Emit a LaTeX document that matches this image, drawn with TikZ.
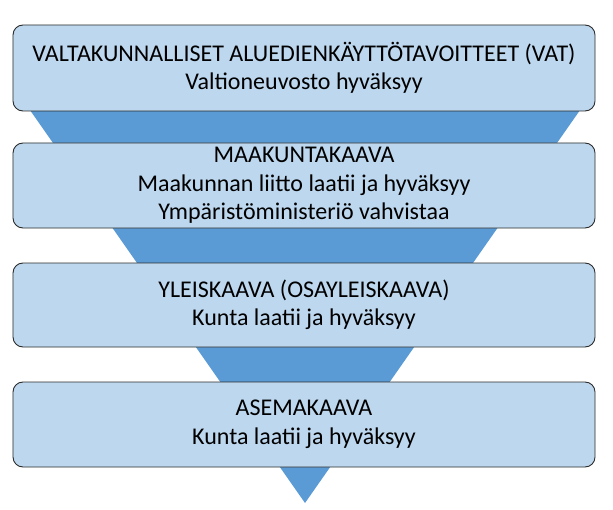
\documentclass[tikz,border=0pt]{standalone}
\usepackage{fontspec}
\setmainfont{Carlito}
\usepackage{tikz}
\usetikzlibrary{positioning, calc}

\definecolor{kaavafill}{HTML}{BDD7EE}
\definecolor{kaavablue}{HTML}{5B9BD5}
\definecolor{kaavaline}{HTML}{2B2B2B}

\tikzset{
  kaavabox/.style={draw=kaavaline, line width=0.9bp, fill=kaavafill, rounded corners=10bp,
    minimum width=582bp, minimum height=85bp, inner sep=0pt, align=center,
    font=\fontsize{24bp}{28.5bp}\selectfont}
}

\begin{document}
\begin{tikzpicture}[x=1bp, y=-1bp]

\useasboundingbox (0,0) rectangle (613,510);

%//the big funnel behind the boxes
\fill[kaavablue] (19.4,95) -- (590.6,95) -- (305,503) -- cycle;

\node [kaavabox, minimum height=86bp] (vat) at (304, 68) {VALTAKUNNALLISET ALUEDIENKÄYTTÖTAVOITTEET (VAT)\\Valtioneuvosto hyväksyy};
\node [kaavabox] (maakunta) at (304, 185.5) {MAAKUNTAKAAVA\\Maakunnan liitto laatii ja hyväksyy\\Ympäristöministeriö vahvistaa};
\node [kaavabox, minimum height=84bp] (yleis) at (304, 305) {YLEISKAAVA (OSAYLEISKAAVA)\\Kunta laatii ja hyväksyy};
\node [kaavabox] (asema) at (304, 424.5) {ASEMAKAAVA\\Kunta laatii ja hyväksyy};

\end{tikzpicture}
\end{document}
